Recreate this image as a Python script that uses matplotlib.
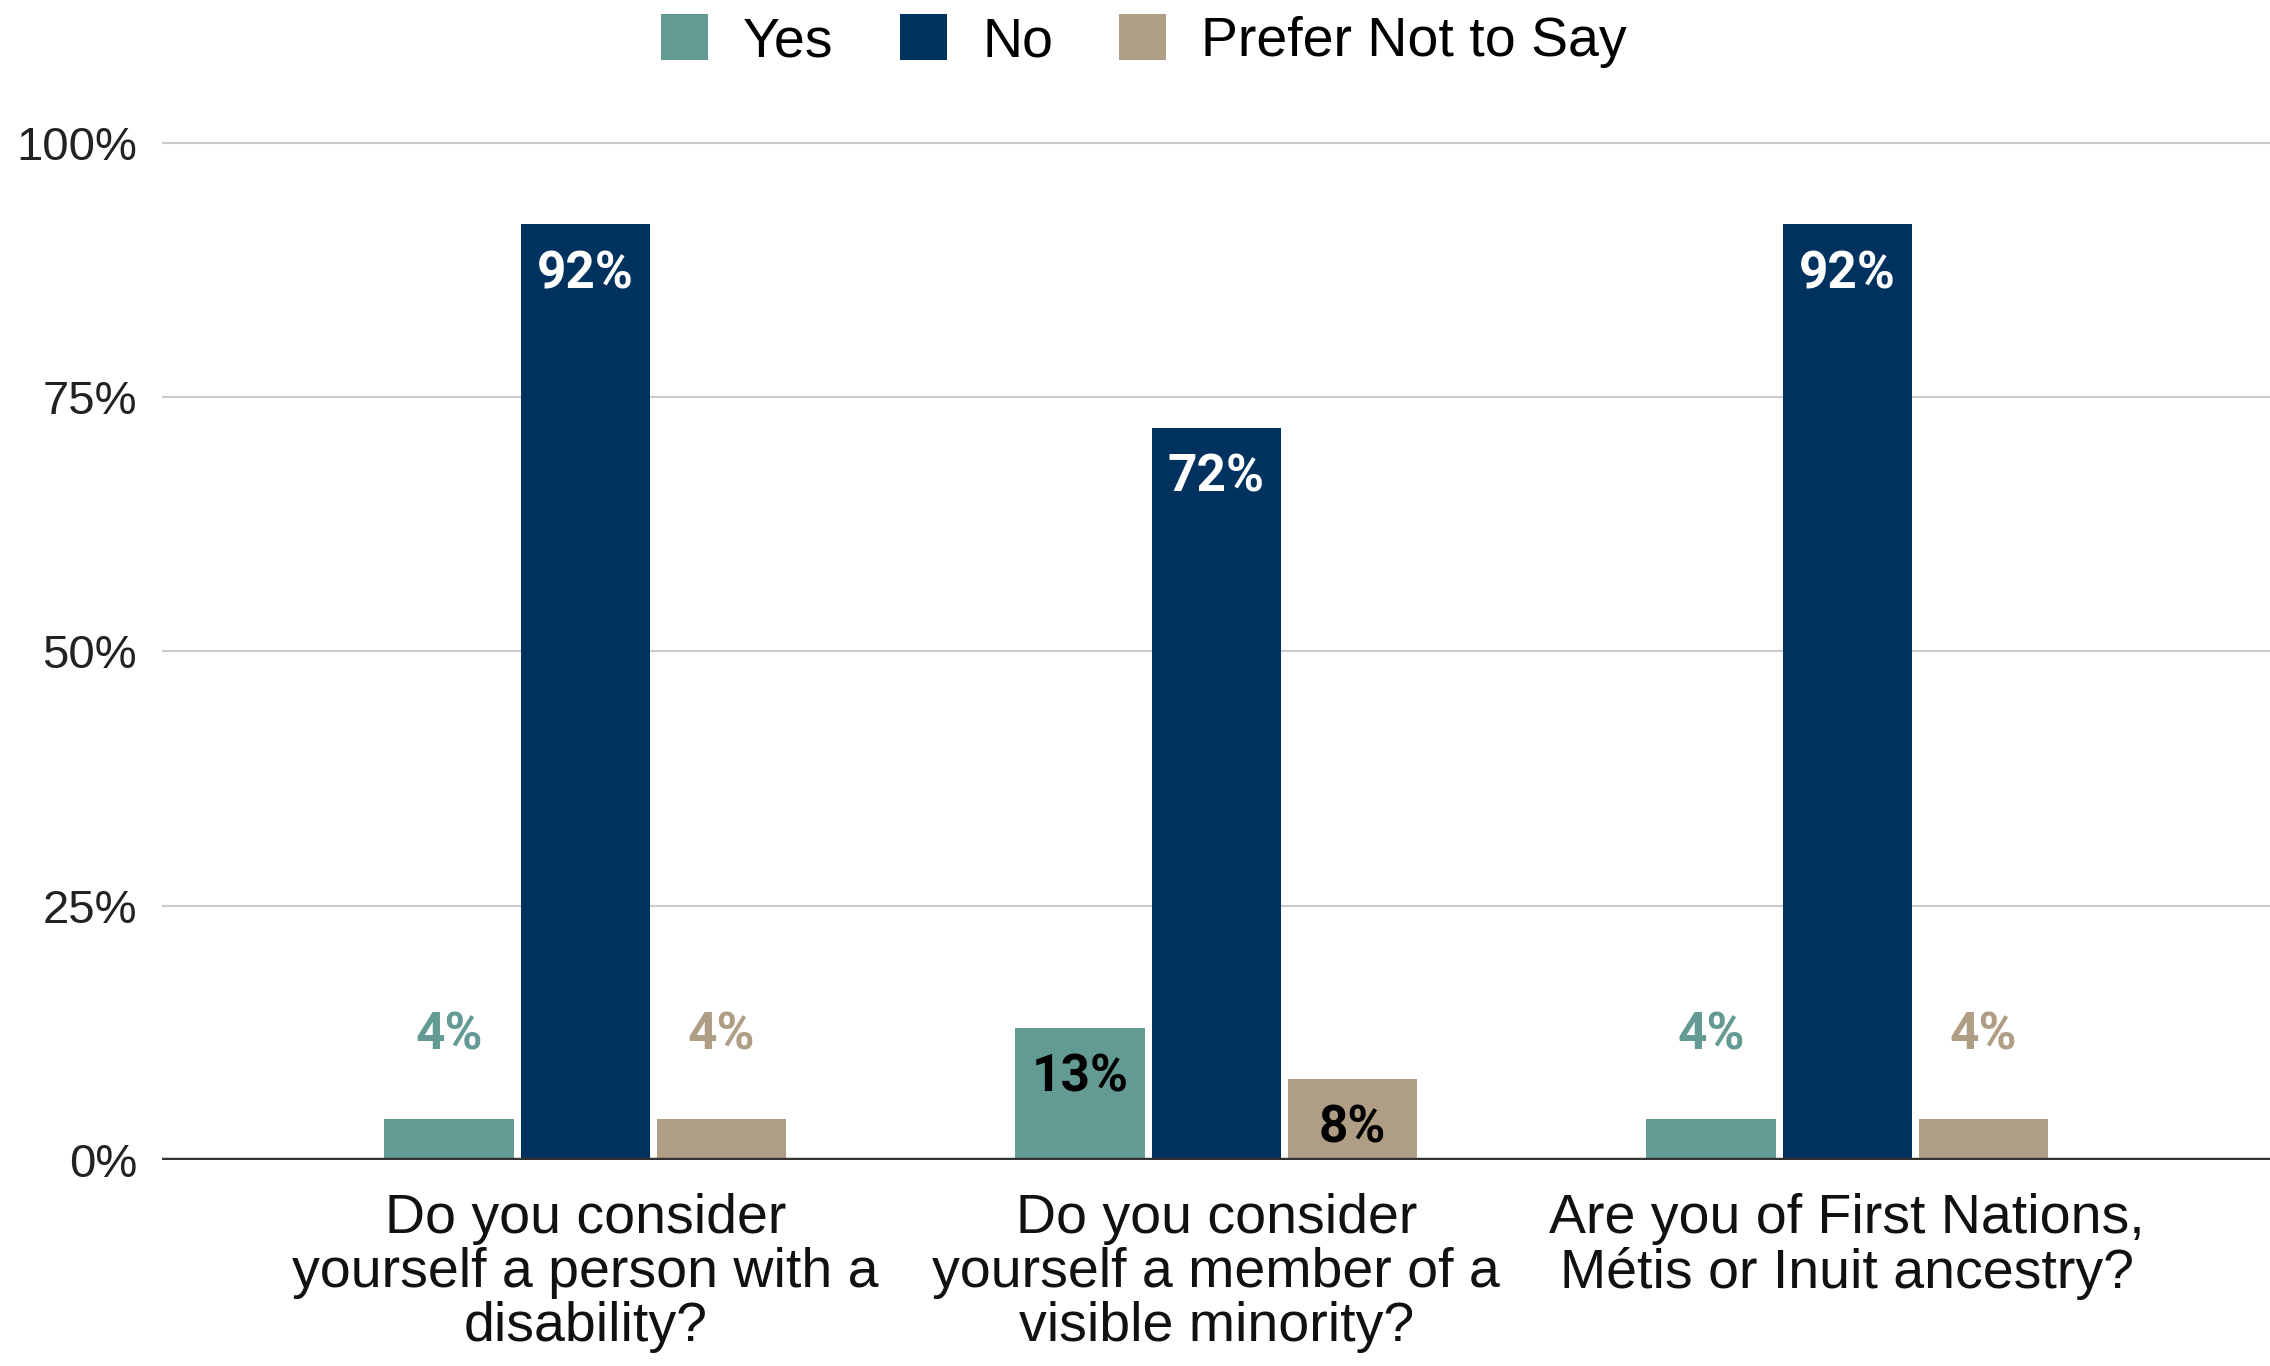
import numpy as np
import matplotlib
matplotlib.use("Agg")
import matplotlib.pyplot as plt
from matplotlib.patches import Patch

# survey answers, percent of respondents
questions = [
    "Do you consider\nyourself a person with a\ndisability?",
    "Do you consider\nyourself a member of a\nvisible minority?",
    "Are you of First Nations,\nMétis or Inuit ancestry?",
]
series_names = ["Yes", "No", "Prefer Not to Say"]
yes_vals = [4, 13, 4]
no_vals = [92, 72, 92]
prefer_vals = [4, 8, 4]
y_ticks = [0, 25, 50, 75, 100]
y_tick_labels = ["0%", "25%", "50%", "75%", "100%"]

colors = ["#639A94", "#003260", "#AF9E85"]
inside_text = ["black", "white", "black"]

plt.rcParams['font.family'] = ['Liberation Sans', 'DejaVu Sans']

fig = plt.figure(figsize=(22.7, 13.66), dpi=100)
W, H = 2270, 1366
px_per_pct = (1160 - 143) / 100.0
top_px = 143 - 1.0 * px_per_pct
ax = fig.add_axes([162 / W, 1 - 1160 / H, 1 - 162 / W, (1160 - top_px) / H])

x = np.arange(len(questions))
width = 0.205
offset = 0.216
all_vals = [yes_vals, no_vals, prefer_vals]

for i, vals in enumerate(all_vals):
    xs = x + (i - 1) * offset
    ax.bar(xs, vals, width=width, color=colors[i], zorder=2)
    for xi, v in zip(xs, vals):
        if v >= 8:
            # fits inside the bar
            ax.text(xi, v - 4.9, f"{v}%", ha="center", va="center",
                    color=inside_text[i], fontsize=37, fontweight="bold",
                    family=["Roboto", "DejaVu Sans"], zorder=4)
        else:
            ax.text(xi, v + 8.2, f"{v}%", ha="center", va="center",
                    color=colors[i], fontsize=37, fontweight="bold",
                    family=["Roboto", "DejaVu Sans"], zorder=4)

ax.set_xlim(-0.671, 2.670)
ax.set_ylim(0, 101)
ax.set_yticks(y_ticks)
ax.set_yticklabels(y_tick_labels, fontsize=34, color="#222222")
ax.set_xticks(x)
ax.set_xticklabels(questions, fontsize=40, linespacing=1.05, color="#111111")
ax.tick_params(axis="y", length=0, pad=18)
ax.tick_params(axis="x", length=0, pad=24)

for s in ax.spines.values():
    s.set_visible(False)
ax.yaxis.grid(True, color="#CCCCCC", linewidth=1.5, zorder=0)
ax.set_axisbelow(True)
ax.axhline(0, color="#333333", linewidth=3.2, zorder=3)

handles = [Patch(facecolor=c, edgecolor="none") for c in colors]
fig.legend(handles, series_names, loc="center", bbox_to_anchor=(0.504, 1 - 41 / H),
           ncol=3, frameon=False, fontsize=40, handlelength=0.85, handleheight=0.9,
           handletextpad=0.63, columnspacing=1.19, borderaxespad=0)

fig.savefig("out.png", dpi=100, facecolor="white")
